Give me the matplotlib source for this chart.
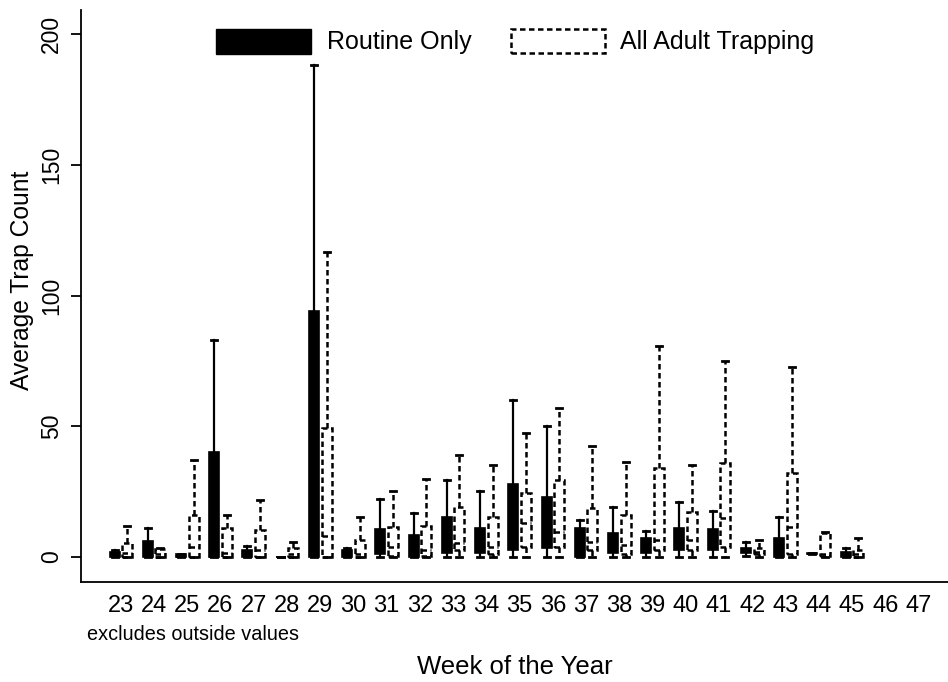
import numpy as np
from matplotlib import pyplot as plt
from matplotlib.patches import Rectangle

plt.rcParams['font.family'] = ['Liberation Sans', 'DejaVu Sans']

# week labels on the x axis
weeks = list(range(23, 48))

# Routine Only: lower whisker, q1, median, q3, upper whisker (weeks 23-45)
routine_lo = [0, 0, 0, 0, 0, 0, 0, 0, 0, 0, 0, 0, 0, 0, 0, 0, 0, 0, 0, 0.5, 0, 1, 0]
routine_q1 = [0, 0, 0, 0, 0, 0, 0, 0, 1, 0, 1.4, 1.5, 2.7, 3.3, 0, 1.5, 1.4, 2.7, 2.7, 1.4, 0, 1, 0]
routine_med = [1, 1, 0, 0, 1, 0, 2, 1, 4, 3, 5, 5, 10, 10, 4, 4, 3, 5, 5, 2, 3, 1, 1]
routine_q3 = [2, 6, 1, 40, 2.7, 0, 94, 2.7, 10.7, 8.4, 15.2, 11, 28, 23, 11, 9, 7.2, 11, 10.7, 3.3, 7.2, 1.5, 2]
routine_hi = [2.5, 11, 1, 83, 4.3, 0, 188, 3.6, 22.3, 17, 29.5, 25.3, 60, 50, 14.2, 19.3, 10.1, 21.2, 17.7, 5.9, 15.4, 1.5, 3.3]

# All Adult Trapping
adult_lo = [0] * 23
adult_q1 = [0, 0, 0, 0, 0, 0, 0, 0, 0.5, 0.5, 2.7, 1, 4, 4, 2.7, 1, 2.7, 2.7, 4, 1, 1, 0.5, 0]
adult_med = [1.5, 1, 4, 1.5, 2.7, 1, 8, 1, 4, 2.7, 5.2, 4, 13.1, 9.7, 5.9, 4.6, 6.5, 6.5, 14.8, 2, 11.4, 1, 1]
adult_q3 = [5.4, 3, 16, 11, 10.3, 3.4, 49.4, 6.5, 11.6, 12, 19.3, 15.4, 24.4, 29.5, 18.7, 16.1, 34, 17.4, 35.9, 3.4, 32.3, 9.1, 2.7]
adult_hi = [12, 3.5, 37, 16, 21.8, 5.7, 116.5, 15.3, 25.3, 30, 39, 35.2, 47.4, 57, 42.3, 36.5, 80.8, 35.2, 74.8, 6.5, 72.7, 9.5, 7.2]


def make_stats(lo, q1, med, q3, hi):
    return [dict(whislo=a, q1=b, med=c, q3=d, whishi=e, fliers=[])
            for a, b, c, d, e in zip(lo, q1, med, q3, hi)]


fig = plt.figure(figsize=(9.48, 6.82), dpi=100)
ax = fig.add_axes([0.0854, 0.1466, 0.9146, 0.8387])

data_weeks = np.array(weeks[:len(routine_q3)])
dash = (0, (2.2, 1.4))

# routine only boxes (solid black)
ax.bxp(make_stats(routine_lo, routine_q1, routine_med, routine_q3, routine_hi),
       positions=data_weeks - 0.19, widths=0.3, capwidths=0.18,
       patch_artist=True, showfliers=False, manage_ticks=False,
       boxprops=dict(facecolor='black', edgecolor='black', linewidth=1.2),
       whiskerprops=dict(color='black', linewidth=1.6),
       capprops=dict(color='black', linewidth=2),
       medianprops=dict(color='black', linewidth=1.2))

# all adult trapping boxes (dashed outline)
ax.bxp(make_stats(adult_lo, adult_q1, adult_med, adult_q3, adult_hi),
       positions=data_weeks + 0.19, widths=0.3, capwidths=0.18,
       patch_artist=True, showfliers=False, manage_ticks=False,
       boxprops=dict(facecolor='white', edgecolor='black', linewidth=1.8, linestyle=dash),
       whiskerprops=dict(color='black', linewidth=1.8, linestyle=dash),
       capprops=dict(color='black', linewidth=2),
       medianprops=dict(color='black', linewidth=1.8, linestyle=dash))

# axes
ax.set_xlim(21.8, 47.89)
ax.set_ylim(-9.56, 209.2)
ax.set_xticks(weeks)
ax.set_xticklabels([str(w) for w in weeks], fontsize=17)
ax.set_yticks([0, 50, 100, 150, 200])
ax.set_yticklabels(['0', '50', '100', '150', '200'], fontsize=16.5, rotation=90, va='center')
ax.tick_params(axis='x', length=0, pad=9)
ax.tick_params(axis='y', length=7, width=1.3, pad=6)
ax.spines['top'].set_visible(False)
ax.spines['right'].set_visible(False)
ax.spines['left'].set_linewidth(1.3)
ax.spines['bottom'].set_linewidth(1.3)
ax.set_xlabel('Week of the Year', fontsize=18.5, labelpad=28)
ax.set_ylabel('Average Trap Count', fontsize=17.7)
ax.yaxis.set_label_coords(-0.054, 0.527)

fig.text(87 / 948, 1 - 635 / 682, 'excludes outside values', fontsize=14.3, va='center')

# legend
fig.add_artist(Rectangle((216 / 948, 1 - 54 / 682), 95 / 948, 25 / 682,
                         transform=fig.transFigure, facecolor='black', edgecolor='black'))
fig.add_artist(Rectangle((511 / 948, 1 - 53 / 682), 94 / 948, 24 / 682,
                         transform=fig.transFigure, facecolor='white', edgecolor='black',
                         linewidth=1.8, linestyle=dash))
fig.text(327 / 948, 1 - 42 / 682, 'Routine Only', fontsize=18, va='center')
fig.text(620 / 948, 1 - 42 / 682, 'All Adult Trapping', fontsize=18, va='center')

plt.savefig('out.png', dpi=100)
